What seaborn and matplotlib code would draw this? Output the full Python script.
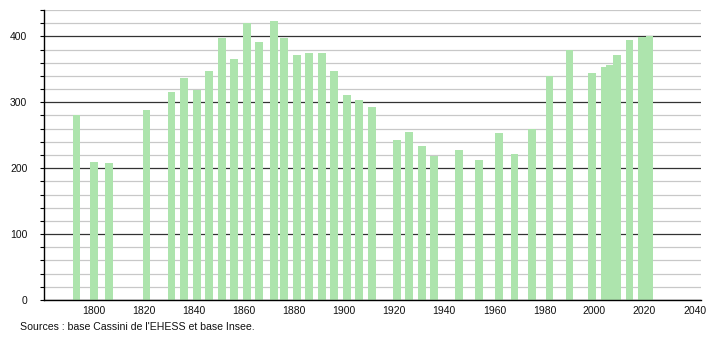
import matplotlib
matplotlib.use("Agg")
import matplotlib.pyplot as plt
from matplotlib.ticker import MultipleLocator
import seaborn as sns
import pandas as pd

years = [1793, 1800, 1806, 1821, 1831, 1836, 1841, 1846, 1851, 1856, 1861, 1866,
         1872, 1876, 1881, 1886, 1891, 1896, 1901, 1906, 1911, 1921, 1926, 1931,
         1936, 1946, 1954, 1962, 1968, 1975, 1982, 1990, 1999, 2004, 2006, 2009,
         2014, 2019, 2022]
population = [281, 210, 208, 289, 316, 337, 319, 347, 397, 366, 420, 392,
              424, 397, 372, 375, 375, 347, 311, 304, 293, 243, 255, 234,
              218, 228, 212, 254, 222, 259, 340, 379, 344, 353, 356, 372,
              394, 399, 400]
x_ticks = [1800, 1820, 1840, 1860, 1880, 1900, 1920, 1940, 1960, 1980, 2000, 2020, 2040]
source_text = "Sources : base Cassini de l'EHESS et base Insee."

df = pd.DataFrame({"year": years, "pop": population})

sns.set_style("white")
plt.rcParams["font.family"] = ["Liberation Sans", "DejaVu Sans"]
plt.rcParams["text.color"] = "#111111"
plt.rcParams["xtick.color"] = "#111111"
plt.rcParams["ytick.color"] = "#111111"

fig = plt.figure(figsize=(7.1, 3.4), dpi=100)
ax = fig.add_axes([0.062, 0.1176, 0.925, 0.853])

sns.barplot(data=df, x="year", y="pop", native_scale=True, width=1.55,
            color="#ade4ad", saturation=1, errorbar=None, linewidth=0, ax=ax)

ax.set_xlim(1780, 2042.5)
ax.set_ylim(0, 440)
ax.set_xticks(x_ticks)
ax.set_xticklabels([str(t) for t in x_ticks])
ax.yaxis.set_major_locator(MultipleLocator(100))
ax.yaxis.set_minor_locator(MultipleLocator(20))
ax.set_axisbelow(True)
ax.grid(False)
ax.yaxis.grid(True, which="minor", color="#c8c8c8", linewidth=0.9)
ax.yaxis.grid(True, which="major", color="#333333", linewidth=0.9)

ax.tick_params(axis="y", which="both", left=True, length=3, width=0.8,
               color="black", labelcolor="#111111", labelsize=7.5, pad=9)
ax.tick_params(axis="x", which="both", bottom=False, length=0,
               labelcolor="#111111", labelsize=7.5, pad=4)

for s in ["top", "right"]:
    ax.spines[s].set_visible(False)
for s in ["left", "bottom"]:
    ax.spines[s].set_color("black")
    ax.spines[s].set_linewidth(1.0)

ax.set_xlabel("")
ax.set_ylabel("")

fig.text(0.028, 0.038, source_text, fontsize=7.6, ha="left", va="center",
         color="#111111")

fig.savefig("out.png", dpi=100)
